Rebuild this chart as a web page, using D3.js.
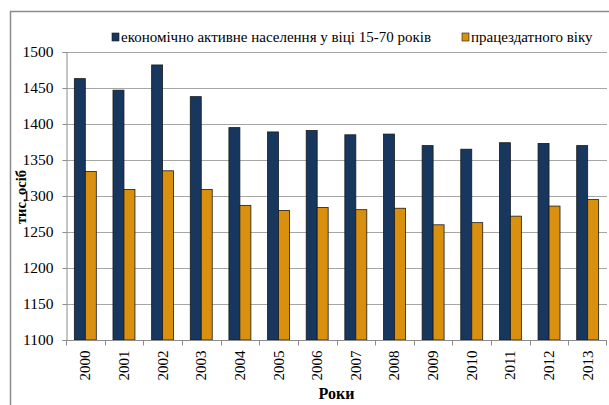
<!DOCTYPE html>
<html lang="uk">
<head>
<meta charset="UTF-8">
<title>Економічно активне населення</title>
<script src="https://d3js.org/d3.v7.min.js"></script>
<style>
  body { margin: 0; background: #fff; }
  svg { display: block; }
  svg text { font-family: "Liberation Serif", "Times New Roman", serif; }
</style>
</head>
<body>
<svg id="chart" width="609" height="405"></svg>
<script>
const years = ["2000","2001","2002","2003","2004","2005","2006","2007","2008","2009","2010","2011","2012","2013"];
const active = [1463, 1447, 1482, 1438, 1395, 1389, 1391, 1385, 1386, 1370, 1365, 1374, 1373, 1370];
const working = [1334, 1309, 1335, 1309, 1287, 1280, 1284, 1281, 1283, 1260, 1263, 1272, 1286, 1295];
const seriesNames = ["економічно активне населення у віці 15-70 років", "працездатного віку"];
const seriesColors = ["#17375e", "#d9900f"];
const yTicks = [1100, 1150, 1200, 1250, 1300, 1350, 1400, 1450, 1500];

const svg = d3.select("#chart");
const plotLeft = 66, plotRight = 607, plotTop = 52, plotBottom = 340;

// outer frame
svg.append("path")
    .attr("d", "M10.5,420 V11.5 H615")
    .attr("fill", "none")
    .attr("stroke", "#8c8c8c")
    .attr("stroke-width", 1.5);

const y = d3.scaleLinear().domain([1100, 1500]).range([plotBottom, plotTop]);
const x0 = d3.scaleBand().domain(years).range([plotLeft, plotRight]).padding(0);
const x1 = d3.scaleBand().domain([0, 1]).range([0, x0.bandwidth()])
    .paddingInner(0).paddingOuter(0.76);

// gridlines
svg.append("g")
    .selectAll("line")
    .data(yTicks.filter(t => t > 1100))
    .enter().append("line")
    .attr("x1", plotLeft).attr("x2", plotRight)
    .attr("y1", d => Math.round(y(d)) + 0.5)
    .attr("y2", d => Math.round(y(d)) + 0.5)
    .attr("stroke", "#a6a6a6")
    .attr("stroke-width", 1);

// bars
const data = years.map((yr, i) => ({ year: yr, vals: [active[i], working[i]] }));
const groups = svg.append("g")
    .selectAll("g")
    .data(data)
    .enter().append("g")
    .attr("transform", d => `translate(${x0(d.year)},0)`);

groups.selectAll("rect")
    .data(d => d.vals.map((v, k) => ({ k, v })))
    .enter().append("rect")
    .attr("x", d => x1(d.k))
    .attr("y", d => y(d.v))
    .attr("width", x1.bandwidth())
    .attr("height", d => y(1100) - y(d.v))
    .attr("fill", d => seriesColors[d.k])
    .attr("stroke", "#1a1a1a")
    .attr("stroke-width", 0.8);

// y axis
const yAxis = svg.append("g")
    .attr("transform", `translate(${plotLeft + 0.5},0)`)
    .call(d3.axisLeft(y).tickValues(yTicks).tickSize(4).tickPadding(9).tickFormat(d3.format("d")));
yAxis.select(".domain").attr("stroke", "#8c8c8c");
yAxis.selectAll(".tick line").attr("stroke", "#8c8c8c");
yAxis.selectAll("text")
    .attr("font-size", 15.5)
    .attr("fill", "#000");

// x axis with ticks at category boundaries
const xAxisG = svg.append("g").attr("transform", `translate(0,${plotBottom + 0.5})`);
xAxisG.append("line")
    .attr("x1", plotLeft).attr("x2", plotRight)
    .attr("stroke", "#8c8c8c");
xAxisG.selectAll("line.tk")
    .data(years)
    .enter().append("line")
    .attr("class", "tk")
    .attr("x1", d => Math.round(x0(d)) + 0.5)
    .attr("x2", d => Math.round(x0(d)) + 0.5)
    .attr("y1", 0).attr("y2", 5)
    .attr("stroke", "#8c8c8c");
xAxisG.append("line")
    .attr("x1", plotRight - 0.5).attr("x2", plotRight - 0.5)
    .attr("y1", 0).attr("y2", 5)
    .attr("stroke", "#8c8c8c");
xAxisG.selectAll("text")
    .data(years)
    .enter().append("text")
    .attr("transform", d => `translate(${x0(d) + x0.bandwidth() / 2 + 5},${10}) rotate(-90)`)
    .attr("text-anchor", "end")
    .attr("font-size", 15)
    .attr("fill", "#000")
    .text(d => d);

// axis titles
svg.append("text")
    .attr("x", (plotLeft + plotRight) / 2)
    .attr("y", 399)
    .attr("text-anchor", "middle")
    .attr("font-size", 16)
    .attr("font-weight", "bold")
    .text("Роки");

svg.append("text")
    .attr("transform", `translate(26,197) rotate(-90)`)
    .attr("text-anchor", "middle")
    .attr("font-size", 14.5)
    .attr("font-weight", "bold")
    .text("тис. осіб");

// legend
const legendX = [112, 462];
const legend = svg.append("g")
    .selectAll("g")
    .data(seriesNames)
    .enter().append("g")
    .attr("transform", (d, i) => `translate(${legendX[i]},33)`);
legend.append("rect")
    .attr("width", 7).attr("height", 8)
    .attr("fill", (d, i) => seriesColors[i])
    .attr("stroke", "#1a1a1a")
    .attr("stroke-width", 0.6);
legend.append("text")
    .attr("x", 9)
    .attr("y", 9)
    .attr("font-size", 15)
    .attr("fill", "#000")
    .text(d => d);
</script>
</body>
</html>
